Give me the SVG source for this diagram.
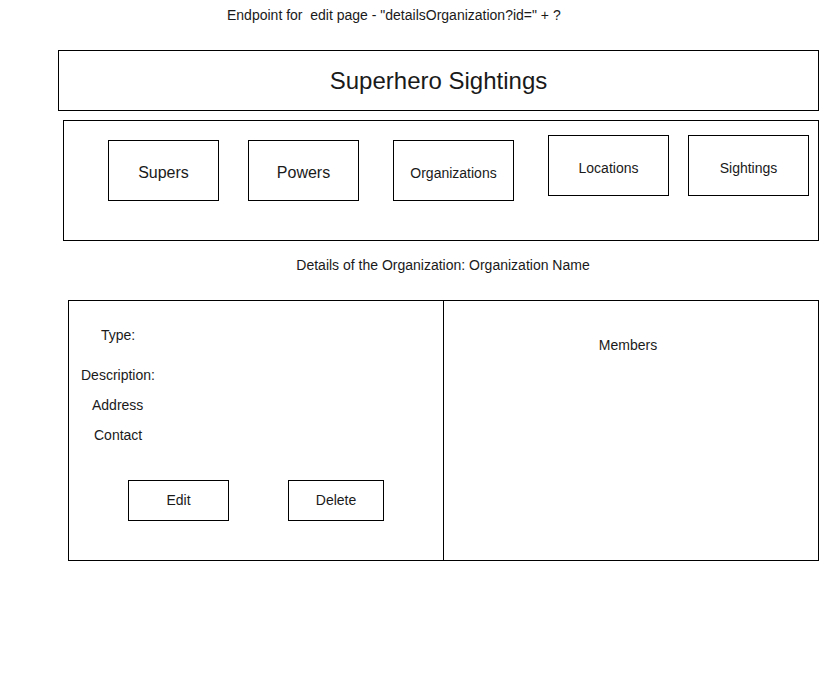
<svg xmlns="http://www.w3.org/2000/svg" width="819" height="687" viewBox="0 0 819 687">
<style>
rect{fill:#fff;stroke:#000;stroke-width:1}
text{font-family:"Liberation Sans",Arial,sans-serif;font-size:14px;fill:#1a1a1a}
.c{text-anchor:middle}
</style>
<rect x="0" y="0" width="819" height="687" style="stroke:none"/>
<g id="endpoint"><text x="227" y="20" style="white-space:pre" xml:space="preserve">Endpoint for  edit page - "detailsOrganization?id=" + ?</text></g>
<g id="header"><rect x="58.5" y="50.5" width="760" height="60"/><text class="c" x="438.5" y="88.5" style="font-size:24px">Superhero Sightings</text></g>
<g id="nav"><rect x="63.5" y="120.5" width="755" height="120"/></g>
<g id="supers"><rect x="108.5" y="140.5" width="110" height="60"/><text class="c" x="163.5" y="178" style="font-size:16px">Supers</text></g>
<g id="powers"><rect x="248.5" y="140.5" width="110" height="60"/><text class="c" x="303.5" y="178" style="font-size:16px">Powers</text></g>
<g id="organizations"><rect x="393.5" y="140.5" width="120" height="60"/><text class="c" x="453.5" y="178">Organizations</text></g>
<g id="locations"><rect x="548.5" y="135.5" width="120" height="60"/><text class="c" x="608.5" y="173">Locations</text></g>
<g id="sightings"><rect x="688.5" y="135.5" width="120" height="60"/><text class="c" x="748.5" y="173">Sightings</text></g>
<g id="details-title"><text class="c" x="443" y="270">Details of the Organization: Organization Name</text></g>
<g id="info-panel"><rect x="68.5" y="300.5" width="375" height="260"/>
<text x="101" y="340">Type:</text>
<text x="81" y="380">Description:</text>
<text x="92" y="410">Address</text>
<text x="94" y="440">Contact</text>
</g>
<g id="members-panel"><rect x="443.5" y="300.5" width="375" height="260"/><text class="c" x="628" y="350">Members</text></g>
<g id="edit"><rect x="128.5" y="480.5" width="100" height="40"/><text class="c" x="178.5" y="505">Edit</text></g>
<g id="delete"><rect x="288.5" y="480.5" width="95" height="40"/><text class="c" x="336" y="505">Delete</text></g>
<g id="connectors"></g>
</svg>
